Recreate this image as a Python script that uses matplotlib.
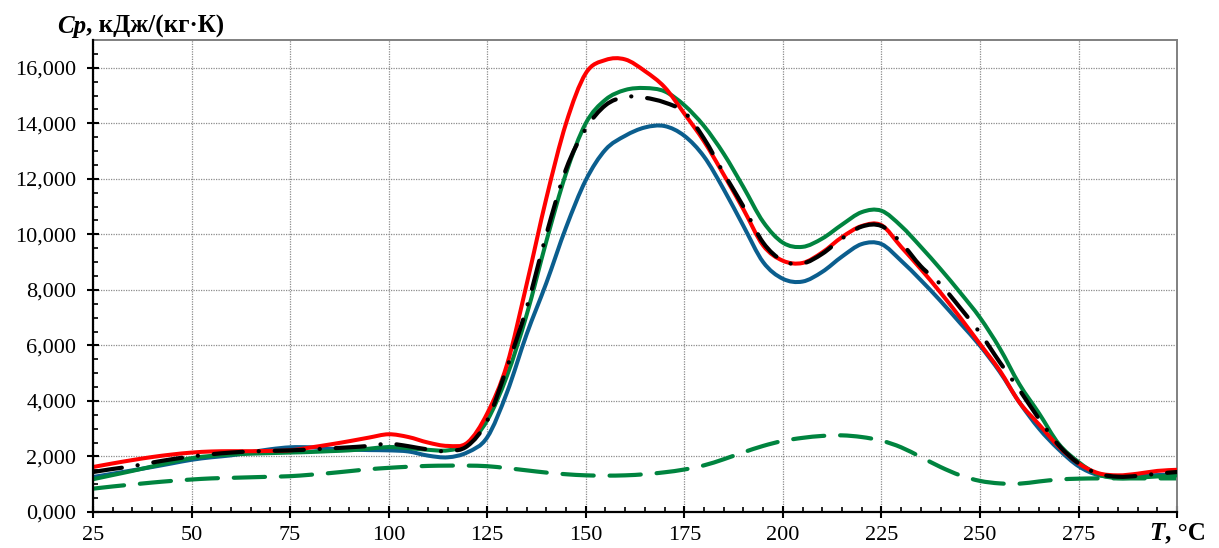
import numpy as np
import matplotlib.pyplot as plt
from matplotlib.path import Path
from matplotlib.patches import PathPatch
from matplotlib.ticker import MultipleLocator, FuncFormatter

plt.rcParams['font.family'] = ['Liberation Serif', 'DejaVu Serif']
plt.rcParams['xtick.labelsize'] = 16
plt.rcParams['ytick.labelsize'] = 16

# temperature, °C
temps = [25, 30, 35, 40, 45, 50, 55, 60, 65, 70, 75, 80, 85, 90, 95, 100,
         105, 110, 115, 120, 125, 130, 135, 140, 145, 150, 155, 160, 165, 170,
         175, 180, 185, 190, 195, 200, 205, 210, 215, 220, 225, 230, 235, 240,
         245, 250, 255, 260, 265, 270, 275, 280, 285, 290, 295, 300]

# Cp, kJ/(kg*K)
cp_red = [1.62, 1.75, 1.87, 1.98, 2.07, 2.14, 2.18, 2.19, 2.19, 2.20, 2.22, 2.32,
          2.43, 2.55, 2.68, 2.80, 2.70, 2.50, 2.38, 2.50, 3.55, 5.30, 8.20, 11.30,
          14.00, 15.80, 16.28, 16.30, 15.88, 15.30, 14.35, 13.35, 12.15, 10.90, 9.60,
          9.05, 8.97, 9.35, 9.90, 10.30, 10.33, 9.55, 8.75, 7.90, 7.00, 6.05, 5.10,
          3.95, 3.15, 2.35, 1.75, 1.40, 1.32, 1.38, 1.48, 1.52]

cp_green = [1.18, 1.33, 1.48, 1.64, 1.80, 1.94, 2.02, 2.07, 2.10, 2.12, 2.14, 2.16,
            2.19, 2.22, 2.28, 2.34, 2.30, 2.24, 2.22, 2.45, 3.30, 4.90, 7.10, 9.75,
            12.20, 14.00, 14.85, 15.20, 15.27, 15.15, 14.65, 13.90, 12.90, 11.70, 10.45,
            9.70, 9.55, 9.85, 10.35, 10.80, 10.85, 10.30, 9.55, 8.75, 7.90, 7.00, 5.90,
            4.60, 3.55, 2.45, 1.80, 1.35, 1.22, 1.24, 1.28, 1.32]

cp_blue = [1.26, 1.38, 1.50, 1.62, 1.75, 1.88, 1.97, 2.04, 2.15, 2.26, 2.33, 2.33,
           2.28, 2.25, 2.23, 2.22, 2.18, 2.03, 1.97, 2.15, 2.69, 4.30, 6.40, 8.25,
           10.25, 11.95, 13.05, 13.55, 13.85, 13.90, 13.55, 12.80, 11.62, 10.30, 9.00,
           8.40, 8.30, 8.65, 9.20, 9.65, 9.65, 9.05, 8.35, 7.60, 6.80, 5.99, 5.05,
           3.95, 3.00, 2.25, 1.65, 1.33, 1.28, 1.30, 1.33, 1.35]

cp_black = [1.44, 1.55, 1.65, 1.78, 1.90, 2.00, 2.08, 2.14, 2.18, 2.20, 2.22, 2.25,
            2.29, 2.33, 2.38, 2.46, 2.37, 2.25, 2.19, 2.38, 3.29, 5.20, 7.35, 10.00,
            12.35, 13.80, 14.65, 14.95, 14.92, 14.75, 14.40, 13.45, 12.20, 11.00, 9.70,
            9.05, 8.95, 9.30, 9.85, 10.28, 10.30, 9.70, 8.85, 8.20, 7.35, 6.45, 5.40,
            4.40, 3.35, 2.40, 1.75, 1.38, 1.27, 1.30, 1.38, 1.44]

cp_dashed = [0.84, 0.92, 0.99, 1.06, 1.12, 1.17, 1.21, 1.23, 1.25, 1.27, 1.29, 1.34,
             1.40, 1.47, 1.54, 1.59, 1.63, 1.66, 1.67, 1.67, 1.65, 1.58, 1.50, 1.42,
             1.36, 1.32, 1.31, 1.32, 1.36, 1.43, 1.53, 1.68, 1.90, 2.15, 2.38, 2.56,
             2.67, 2.74, 2.76, 2.70, 2.57, 2.33, 1.98, 1.62, 1.32, 1.12, 1.03, 1.02,
             1.10, 1.17, 1.20, 1.21, 1.21, 1.21, 1.21, 1.21]


def smooth_path(x, y):
    # excel-like smoothed line: catmull-rom turned into bezier segments
    pts = np.column_stack([x, y]).astype(float)
    ext = np.vstack([pts[0], pts, pts[-1]])
    verts = [pts[0]]
    codes = [Path.MOVETO]
    for i in range(len(pts) - 1):
        p0, p1, p2, p3 = ext[i], ext[i + 1], ext[i + 2], ext[i + 3]
        verts += [p1 + (p2 - p0) / 6, p2 - (p3 - p1) / 6, p2]
        codes += [Path.CURVE4] * 3
    return Path(verts, codes)


def add_curve(ax, y, color, lw, ls='-', z=2):
    patch = PathPatch(smooth_path(temps, y), fill=False, edgecolor=color, lw=lw,
                      linestyle=ls, capstyle='round', joinstyle='round', zorder=z)
    ax.add_patch(patch)


fig = plt.figure(figsize=(12.19, 5.48), dpi=100)
ax = fig.add_axes([0.0763, 0.0657, 0.8893, 0.8613])

add_curve(ax, cp_dashed, '#00843F', 3.0, (0, (7.5, 3.8)), z=2)
add_curve(ax, cp_blue, '#0B5E8E', 2.9, z=3)
add_curve(ax, cp_green, '#00843F', 2.9, z=4)
add_curve(ax, cp_red, '#FF0000', 2.9, z=5)
add_curve(ax, cp_black, 'black', 3.0, (0, (7, 3.8, 0.05, 3.8)), z=6)

ax.set_xlim(25, 300)
ax.set_ylim(0, 17)
ax.xaxis.set_major_locator(MultipleLocator(25))
ax.xaxis.set_minor_locator(MultipleLocator(5))
ax.yaxis.set_major_locator(MultipleLocator(2))
ax.yaxis.set_minor_locator(MultipleLocator(0.5))
ax.yaxis.set_major_formatter(FuncFormatter(lambda v, p: f"{v:.3f}".replace('.', ',')))
ax.xaxis.set_major_formatter(FuncFormatter(lambda v, p: '' if v > 290 else f"{v:.0f}"))

ax.grid(True, which='major', color='#8c8c8c', lw=0.9, linestyle=(0, (1, 1)))
ax.set_axisbelow(True)

for s in ['left', 'bottom']:
    ax.spines[s].set_linewidth(1.6)
    ax.spines[s].set_color('black')
    ax.spines[s].set_zorder(7)
for s in ['top', 'right']:
    ax.spines[s].set_linewidth(1.4)
    ax.spines[s].set_color('#808080')

ax.tick_params(which='major', direction='inout', length=8, width=1.5, pad=6)
ax.tick_params(which='minor', direction='in', length=3.5, width=1.2)
ax.tick_params(axis='y', which='major', pad=8)
for lbl in ax.get_xticklabels() + ax.get_yticklabels():
    lbl.set_fontsize(16)

t1 = fig.text(0.047, 0.94, 'Cp', fontsize=18, fontweight='bold', fontstyle='italic')
ax.annotate(', кДж/(кг·К)', xy=(1, 0), xycoords=t1, fontsize=18, fontweight='bold',
            va='bottom', ha='left', annotation_clip=False)

t2 = fig.text(0.943, 0.015, 'T', fontsize=18, fontweight='bold', fontstyle='italic')
ax.annotate(', °C', xy=(1, 0), xycoords=t2, fontsize=18, fontweight='bold',
            va='bottom', ha='left', annotation_clip=False)

fig.savefig('out.png', dpi=100)
